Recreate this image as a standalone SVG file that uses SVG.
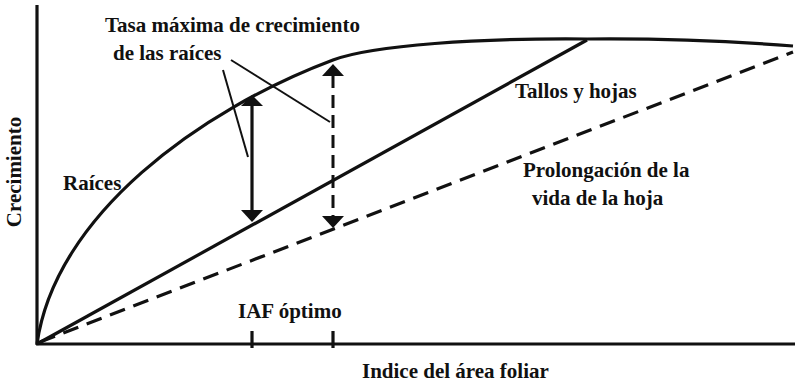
<svg xmlns="http://www.w3.org/2000/svg" width="795" height="385" viewBox="0 0 795 385">
<style>
text{font-family:"Liberation Serif","Times New Roman",serif;font-weight:bold;font-size:21px;fill:#111}
.ln{fill:none;stroke:#111;stroke-width:3.2}
.dash{fill:none;stroke:#111;stroke-width:3.2;stroke-dasharray:16 9}
.vd{fill:none;stroke:#111;stroke-width:3;stroke-dasharray:13 7}
.thin{fill:none;stroke:#111;stroke-width:2}
.ah{fill:#111}
</style>
<rect width="795" height="385" fill="#fff"/>
<g id="axes">
<line class="ln" x1="37" y1="5" x2="37" y2="345"/>
<line class="ln" x1="36" y1="344" x2="795" y2="344"/>
<line class="ln" x1="252" y1="331" x2="252" y2="348"/>
<line class="ln" x1="333" y1="331" x2="333" y2="348"/>
</g>
<g id="curves">
<path id="raices" class="ln" d="M37,344 C55,215 200,110 333,60 C373,45 480,38 587,39 Q690,38 793,46"/>
<line id="tallos" class="ln" x1="37" y1="344" x2="587" y2="40"/>
<line id="vida" class="dash" x1="40" y1="342" x2="793" y2="52"/>
</g>
<g id="connectors">
<line class="ln" x1="252" y1="104" x2="252" y2="212"/>
<polygon class="ah" points="252,95 241,106 263,106"/>
<polygon class="ah" points="252,222 241,210 263,210"/>
<line class="vd" x1="333" y1="75" x2="333" y2="217"/>
<polygon class="ah" points="333,64 322,76 344,76"/>
<polygon class="ah" points="333,228 322,216 344,216"/>
<line class="thin" x1="223" y1="70" x2="248" y2="157"/>
<line class="thin" x1="231" y1="60" x2="330" y2="122"/>
</g>
<g id="labels">
<text x="105" y="32" font-family="Liberation Serif">Tasa máxima de crecimiento</text>
<text x="113" y="60" font-family="Liberation Serif">de las raíces</text>
<text x="63" y="190" font-family="Liberation Serif">Raíces</text>
<text x="515" y="98" font-family="Liberation Serif">Tallos y hojas</text>
<text x="523" y="177" font-family="Liberation Serif">Prolongación de la</text>
<text x="532" y="205" font-family="Liberation Serif">vida de la hoja</text>
<text x="238" y="318" font-family="Liberation Serif">IAF óptimo</text>
<text x="362" y="378" font-family="Liberation Serif">Indice del área foliar</text>
<text transform="translate(21,172) rotate(-90)" text-anchor="middle" font-family="Liberation Serif">Crecimiento</text>
</g>
</svg>
